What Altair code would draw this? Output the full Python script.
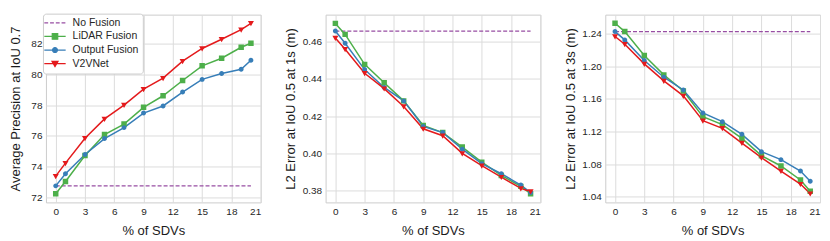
import altair as alt
import pandas as pd

# ---------------- data ----------------
sdv = [0, 1, 3, 5, 7, 9, 11, 13, 15, 17, 19, 20]
series_names = ["No Fusion", "LiDAR Fusion", "Output Fusion", "V2VNet"]
series_colors = ["#984ea3", "#4daf4a", "#377eb8", "#e41a1c"]

ap_lidar = [72.26, 73.05, 74.73, 76.09, 76.77, 77.85, 78.60, 79.59, 80.54, 81.03, 81.74, 82.00]
ap_output = [72.77, 73.55, 74.80, 75.83, 76.54, 77.48, 77.94, 78.84, 79.66, 80.04, 80.32, 80.90]
ap_v2v = [73.40, 74.24, 75.85, 77.10, 78.00, 79.03, 79.74, 80.84, 81.66, 82.26, 82.88, 83.29]
ap_nofusion = 72.77

l1_lidar = [0.4698, 0.4639, 0.4478, 0.4379, 0.4282, 0.4150, 0.4112, 0.4034, 0.3953, 0.3882, 0.3823, 0.3784]
l1_output = [0.4657, 0.4591, 0.4450, 0.4354, 0.4282, 0.4145, 0.4112, 0.4023, 0.3945, 0.3891, 0.3830, 0.3790]
l1_v2v = [0.4620, 0.4559, 0.4430, 0.4348, 0.4252, 0.4132, 0.4095, 0.4000, 0.3934, 0.3873, 0.3812, 0.3796]
l1_nofusion = 0.4657

l3_lidar = [1.2530, 1.2428, 1.2133, 1.1896, 1.1699, 1.1383, 1.1285, 1.1117, 1.0904, 1.0777, 1.0605, 1.0466]
l3_output = [1.2428, 1.2326, 1.2072, 1.1867, 1.1711, 1.1429, 1.1322, 1.1166, 1.0953, 1.0855, 1.0715, 1.0589]
l3_v2v = [1.2367, 1.2272, 1.2031, 1.1822, 1.1638, 1.1334, 1.1240, 1.1059, 1.0880, 1.0715, 1.0555, 1.0438]
l3_nofusion = 1.2428

ap_ticks = [72, 74, 76, 78, 80, 82]
l1_ticks = [0.38, 0.40, 0.42, 0.44, 0.46]
l3_ticks = [1.04, 1.08, 1.12, 1.16, 1.20, 1.24]
x_ticks = [0, 3, 6, 9, 12, 15, 18, 21]

# ---------------- styling ----------------
FONT = "Liberation Sans"
TXT = "#262626"

# legend symbols: a horizontal line with the marker in its middle
shape_paths = [
    "M-3.9,0H-2.5M-1.8,0H-0.4M0.3,0H1.7M2.4,0H3.8",
    "M-3.9,0H3.9M-1,-1H1V1H-1Z",
    "M-3.9,0H3.9M0.9,0A0.9,0.9,0,1,1,-0.9,0A0.9,0.9,0,1,1,0.9,0Z",
    "M-3.9,0H3.9M-1.1,-0.8L1.1,-0.8L0,1.1Z",
]


def long_frame(lidar, output, v2v):
    rows = []
    for name, vals in (("LiDAR Fusion", lidar), ("Output Fusion", output), ("V2VNet", v2v)):
        for xv, yv in zip(sdv, vals):
            rows.append({"sdv": xv, "value": yv, "series": name})
    return pd.DataFrame(rows)


def panel(lidar, output, v2v, nofusion, title, domain, ticks, title_pad, with_legend):
    df = long_frame(lidar, output, v2v)
    nf = pd.DataFrame({"sdv": [min(sdv), max(sdv)], "value": [nofusion, nofusion]})

    xenc = alt.X(
        "sdv:Q",
        scale=alt.Scale(domain=[-1, 21], nice=False, zero=False),
        axis=alt.Axis(values=x_ticks, title="% of SDVs", titlePadding=8, format="d"),
    )
    yenc = alt.Y(
        "value:Q",
        scale=alt.Scale(domain=domain, nice=False, zero=False),
        axis=alt.Axis(values=ticks, title=title, titlePadding=title_pad,
                      format=".2f" if ticks[0] < 10 else "d"),
    )

    stroke_scale = alt.Scale(domain=series_names, range=series_colors)
    fill_scale = alt.Scale(domain=series_names, range=series_colors)
    shape_scale = alt.Scale(domain=series_names, range=shape_paths)

    if with_legend:
        leg = alt.Legend(
            title=None, orient="none", legendX=-3, legendY=-1,
            fillColor="white", strokeColor="#cccccc", cornerRadius=3, padding=4,
            labelFont=FONT, labelFontSize=10.5, labelColor=TXT,
            symbolSize=30, symbolStrokeWidth=1.2, symbolOpacity=1,
            symbolOffset=2.8, labelOffset=12.4, rowPadding=2.6,
        )
    else:
        leg = None

    nf_line = alt.Chart(nf).mark_line(
        color=series_colors[0], strokeDash=[4, 2], strokeWidth=1.2
    ).encode(x=xenc, y=yenc)

    lines = alt.Chart(df).mark_line(strokeWidth=1.5).encode(
        x=xenc, y=yenc,
        stroke=alt.Stroke("series:N", scale=stroke_scale, legend=leg),
    )

    points = alt.Chart(df).mark_point(filled=True, size=30, opacity=1).encode(
        x=xenc, y=yenc,
        fill=alt.Fill("series:N", scale=fill_scale, legend=leg),
        stroke=alt.Stroke("series:N", scale=stroke_scale, legend=leg),
        shape=alt.Shape("series:N", scale=shape_scale, legend=leg),
        strokeWidth=alt.value(0),
    )

    return alt.layer(nf_line, lines, points)


p1 = panel(ap_lidar, ap_output, ap_v2v, ap_nofusion, "Average Precision at IoU 0.7",
           [71.7, 83.85], ap_ticks, 8.8, True).properties(width=215, height=188)
p2 = panel(l1_lidar, l1_output, l1_v2v, l1_nofusion, "L2 Error at IoU 0.5 at 1s (m)",
           [0.3737, 0.4745], l1_ticks, 4.6, False).properties(width=215, height=188)
p3 = panel(l3_lidar, l3_output, l3_v2v, l3_nofusion, "L2 Error at IoU 0.5 at 3s (m)",
           [1.0330, 1.2636], l3_ticks, 4.6, False).properties(width=215, height=188)

chart = (
    alt.hconcat(p1, p2, p3, spacing=65, bounds="flush")
    .resolve_scale(fill="independent", stroke="independent", shape="independent")
    .resolve_legend(fill="independent", stroke="independent", shape="independent")
    .properties(padding={"left": 0, "top": 4.5, "right": 0, "bottom": 0}, background="white")
    .configure_view(stroke="#cccccc", strokeWidth=1)
    .configure_axis(
        grid=True, gridColor="#dcdcdc", gridWidth=1, domain=False, ticks=False,
        labelFont=FONT, labelFontSize=10, labelColor=TXT, labelPadding=4,
        titleFont=FONT, titleFontSize=13, titleFontWeight="normal", titleColor="#1a1a1a",
    )
)

chart.save("out.html", embed_options={"renderer": "svg", "actions": False})
